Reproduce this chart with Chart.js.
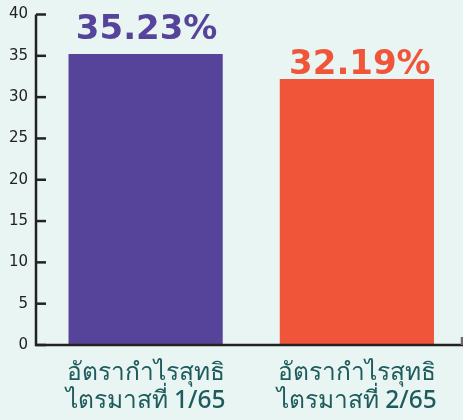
<!DOCTYPE html>
<html>
<head>
<meta charset="utf-8">
<script src="https://cdn.jsdelivr.net/npm/chart.js@4/dist/chart.umd.min.js"></script>
<style>
  html, body { margin: 0; padding: 0; background: #e9f5f3; }
  #wrap { width: 463px; height: 420px; }
</style>
</head>
<body>
<div id="wrap"><canvas id="c" width="463" height="420"></canvas></div>
<script>
// Net profit margin by quarter (%)
const categories = [
  ["อัตรากำไรสุทธิ", "ไตรมาสที่ 1/65"],
  ["อัตรากำไรสุทธิ", "ไตรมาสที่ 2/65"]
];
const netMargin = [35.23, 32.19];
const valueLabels = ["35.23%", "32.19%"];
const yTicks = [0, 5, 10, 15, 20, 25, 30, 35, 40];

const barColors = ["#56449a", "#f0553a"];
const axisColor = "#222222";

// Axis lines and inward tick marks
const axesPlugin = {
  id: "axes",
  afterDraw(chart) {
    const { ctx, chartArea, scales } = chart;
    const y = scales.y;
    const x0 = chartArea.left - 4;
    const yZero = y.getPixelForValue(0);
    const yTop = y.getPixelForValue(40);
    ctx.save();
    ctx.strokeStyle = axisColor;
    ctx.lineWidth = 2.5;
    ctx.beginPath();
    ctx.moveTo(x0, yTop);
    ctx.lineTo(x0, yZero);
    ctx.lineTo(chart.width, yZero);
    ctx.stroke();
    yTicks.forEach(v => {
      const py = y.getPixelForValue(v);
      ctx.beginPath();
      ctx.moveTo(x0, py);
      ctx.lineTo(x0 + 10, py);
      ctx.stroke();
    });
    ctx.strokeStyle = "#6b6b6b";
    ctx.beginPath();
    ctx.moveTo(chart.width - 1, yZero);
    ctx.lineTo(chart.width - 1, yZero - 8);
    ctx.stroke();
    ctx.restore();
  }
};

// Value labels above the bars
const valueLabelPlugin = {
  id: "valueLabels",
  afterDatasetsDraw(chart, args, opts) {
    const { ctx } = chart;
    const meta = chart.getDatasetMeta(0);
    ctx.save();
    ctx.font = "bold 34px 'DejaVu Sans'";
    ctx.textAlign = "center";
    ctx.textBaseline = "alphabetic";
    meta.data.forEach((bar, i) => {
      ctx.fillStyle = barColors[i];
      ctx.fillText(valueLabels[i], bar.x + opts.shiftX[i], bar.y - opts.gap[i]);
    });
    ctx.restore();
  }
};

new Chart(document.getElementById("c"), {
  type: "bar",
  data: {
    labels: categories,
    datasets: [{
      data: netMargin,
      backgroundColor: barColors,
      borderWidth: 0,
      categoryPercentage: 1.0,
      barPercentage: 0.73
    }]
  },
  options: {
    responsive: false,
    devicePixelRatio: 1,
    animation: false,
    layout: { padding: { top: 14.5, right: 0.5, left: 0, bottom: 0 } },
    plugins: {
      legend: { display: false },
      tooltip: { enabled: false },
      valueLabels: { gap: [15, 5], shiftX: [1, 3] }
    },
    scales: {
      x: {
        grid: { display: false },
        border: { display: false },
        ticks: {
          color: "#1d5b5c",
          font: { family: "'Noto Sans', 'DejaVu Sans', sans-serif", size: 24.5, weight: "500", lineHeight: 1.15 },
          padding: 6,
          maxRotation: 0
        },
        afterFit(s) { s.height = 75; s.paddingLeft = 0; s.paddingRight = 0; }
      },
      y: {
        min: 0,
        max: 40,
        grid: { display: false, drawTicks: false },
        border: { display: false },
        afterBuildTicks(s) { s.ticks = yTicks.map(v => ({ value: v })); },
        ticks: {
          color: axisColor,
          font: { family: "'DejaVu Sans'", size: 15 },
          padding: 12
        },
        afterFit(s) { s.width = 40; s.paddingTop = 0; s.paddingBottom = 0; }
      }
    }
  },
  plugins: [axesPlugin, valueLabelPlugin]
});
</script>
</body>
</html>
